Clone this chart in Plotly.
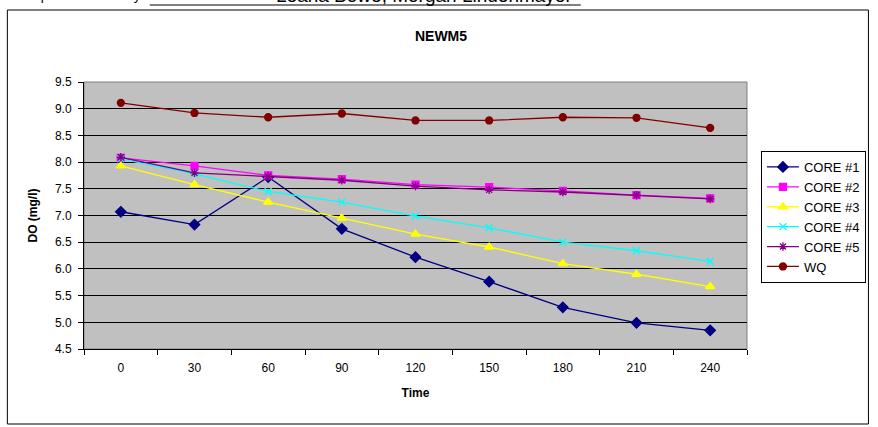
import plotly.graph_objects as go

# Sampling times (minutes) and dissolved oxygen readings (mg/l)
times = ["0", "30", "60", "90", "120", "150", "180", "210", "240"]
core1 = [7.07, 6.83, 7.72, 6.75, 6.22, 5.76, 5.28, 4.99, 4.85]
core2 = [8.08, 7.93, 7.75, 7.68, 7.58, 7.53, 7.46, 7.38, 7.32]
core3 = [7.93, 7.58, 7.25, 6.95, 6.65, 6.41, 6.10, 5.90, 5.67]
core4 = [8.06, 7.78, 7.45, 7.25, 6.99, 6.77, 6.50, 6.34, 6.14]
core5 = [8.09, 7.80, 7.73, 7.66, 7.55, 7.48, 7.44, 7.38, 7.31]
wq = [9.11, 8.92, 8.84, 8.91, 8.78, 8.78, 8.84, 8.83, 8.64]

series = [
    ("CORE #1", core1, "#000080", "diamond", 8),
    ("CORE #2", core2, "#FF00FF", "square", 7),
    ("CORE #3", core3, "#FFFF00", "triangle-up", 8),
    ("CORE #4", core4, "#00FFFF", "x-thin-open", 7),
    ("CORE #5", core5, "#800080", "asterisk-open", 7),
    ("WQ", wq, "#800000", "circle", 7),
]

W, H = 878, 427
L, R, T, B = 84, 128, 82, 78

fig = go.Figure()
for name, vals, color, sym, size in series:
    fig.add_trace(go.Scatter(
        x=times, y=vals, name=name, mode="lines+markers",
        line=dict(color=color, width=1.3),
        marker=dict(symbol=sym, size=size, color=color,
                    line=dict(color=color, width=1.3)),
    ))

pw, ph = W - L - R, H - T - B

def px_x(v):
    return (v - L) / pw

def px_y(v):
    return (H - B - v) / ph

fig.update_layout(
    width=W, height=H,
    margin=dict(l=L, r=R, t=T, b=B),
    paper_bgcolor="white",
    plot_bgcolor="#C0C0C0",
    font=dict(family="Liberation Sans, Arial, sans-serif", size=12, color="black"),
    showlegend=True,
    legend=dict(
        x=px_x(764), y=px_y(151), xanchor="left", yanchor="top",
        bgcolor="white", bordercolor="black", borderwidth=1,
        font=dict(size=13), tracegroupgap=0, itemwidth=32,
    ),
    xaxis=dict(
        type="category", range=[-0.5, 8.5],
        showgrid=False, showline=True, linecolor="black", linewidth=1,
        ticks="outside", tickson="boundaries", ticklen=5, tickcolor="black",
        ticklabelstandoff=8,
        mirror=False, zeroline=False,
        title=dict(text="<b>Time</b>", font=dict(size=12), standoff=14),
    ),
    yaxis=dict(
        range=[4.5, 9.5], dtick=0.5, tick0=4.5, tickformat=".1f",
        showgrid=True, gridcolor="black", gridwidth=1,
        showline=True, linecolor="black", linewidth=1,
        ticks="outside", ticklen=5, tickcolor="black", zeroline=False,
        ticklabelstandoff=4,
        title=dict(text="<b>DO (mg/l)</b>", font=dict(size=12), standoff=14),
    ),
    title=dict(text="<b>NEWM5</b>", x=441 / W, xanchor="center",
               y=1 - 36 / H, yanchor="middle", font=dict(size=14)),
)

# Plot-area frame (top and right edges in grey)
fig.add_shape(type="rect", xref="paper", yref="paper", x0=0, x1=1, y0=0, y1=1,
              line=dict(color="#808080", width=1), layer="below")

# Outer chart border
fig.add_shape(type="rect", xref="paper", yref="paper",
              x0=px_x(7), x1=px_x(872), y0=px_y(424), y1=px_y(10),
              line=dict(color="black", width=1))

# Header line above the chart
fig.add_annotation(xref="paper", yref="paper", x=px_x(11), y=px_y(5),
                   xanchor="left", yanchor="bottom", showarrow=False,
                   text="Samples collected by:", font=dict(size=13.5))
fig.add_annotation(xref="paper", yref="paper", x=px_x(275), y=px_y(8),
                   xanchor="left", yanchor="bottom", showarrow=False,
                   text="Leana Bowe, Morgan Lindenmayer", font=dict(size=19))
fig.add_shape(type="line", xref="paper", yref="paper",
              x0=px_x(150), x1=px_x(583), y0=px_y(5), y1=px_y(5),
              line=dict(color="black", width=1))

fig.write_html("out.html")
